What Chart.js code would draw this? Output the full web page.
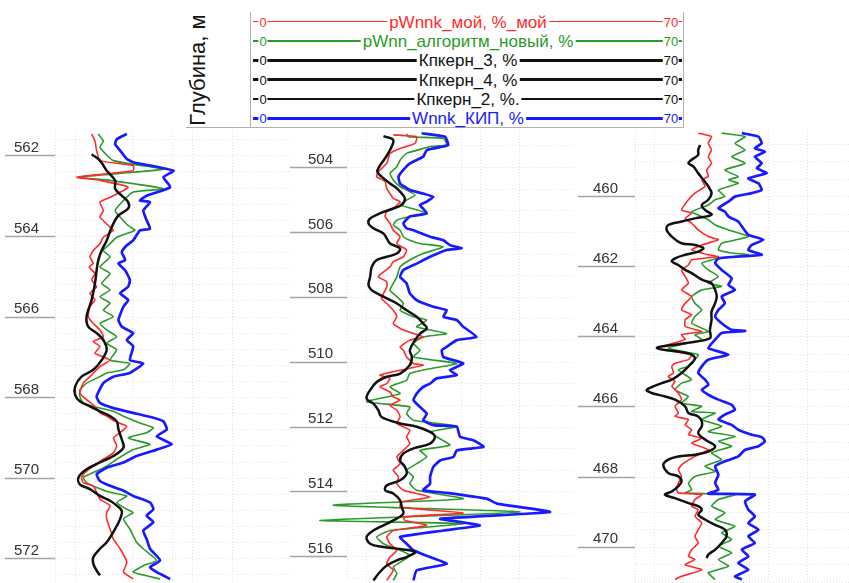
<!DOCTYPE html>
<html>
<head>
<meta charset="utf-8">
<script src="https://cdn.jsdelivr.net/npm/chart.js@4.4.1/dist/chart.umd.min.js"></script>
<style>
  html, body { margin: 0; padding: 0; background: #fff; overflow: hidden; }
  body { position: relative; width: 849px; height: 583px; font-family: Arial, "Liberation Sans", sans-serif; }
  #head { position: absolute; left: 186px; top: 0; width: 497px; height: 127px; border-bottom: 1px solid #b0b0b0; }
  #depthTitle { position: absolute; left: 198px; top: 70px; transform: translate(-50%, -50%) rotate(-90deg);
                font-size: 22px; white-space: nowrap; color: #151515; }
  #legend { position: absolute; left: 250px; top: 12px; width: 432px; height: 116px;
            border-left: 1px solid #b0b0b0; border-right: 1px solid #b0b0b0; }
  .row { position: absolute; left: 2px; width: 429px; height: 0; }
  .row .ln { position: absolute; left: 0; right: 0; top: 0; }
  .row span { position: absolute; top: 0; background: #fff; transform: translate(-50%, -50%);
              line-height: 1; white-space: nowrap; }
  .row .end { font-size: 13px; padding: 0 1px; }
  .row .title { font-size: 17px; padding: 0 2px; }
</style>
</head>
<body>
<div id="head"></div>
<div id="depthTitle">Глубина, м</div>
<div id="legend"></div>
<script>
// ---- scale of every curve track and legend ----
const SCALE_MIN = 0, SCALE_MAX = 70;
const seriesNames = ["pWnnk_мой, %_мой", "pWnn_алгоритм_новый, %", "Кпкерн_3, %", "Кпкерн_4, %", "Кпкерн_2, %.", "Wnnk_КИП, %"];
const seriesColors = ["#ff2a2a", "#2a9a2a", "#111111", "#111111", "#111111", "#1a1aff"];
const gridValues = [0, 6, 23, 35, 41, 53, 70];

// ---- depth ticks (m) ----
const depthTicks1 = [562, 564, 566, 568, 570, 572];
const depthTicks2 = [504, 506, 508, 510, 512, 514, 516];
const depthTicks3 = [460, 462, 464, 466, 468, 470];

// ---- well 1: [depth, value] ----
const red1 = [[561.46,10.9],[561.63,11.9],[561.87,12.4],[562.12,13.4],[562.24,23.3],[562.37,23.3],[562.53,6.5],[562.61,13.4],[562.78,21.8],[563.03,16.4],[563.15,13.4],[563.36,14.4],[563.52,13.4],[563.77,16.4],[563.85,17.4],[564.02,14.4],[564.18,13.4],[564.35,11.4],[564.51,10.4],[564.67,11.4],[564.76,10.2],[564.92,11.9],[565.08,10.9],[565.25,12.4],[565.41,10.4],[565.58,11.9],[565.74,10.4],[565.99,9.9],[566.16,11.4],[566.32,13.4],[566.49,14.4],[566.61,11.4],[566.73,13.4],[566.90,11.9],[567.07,16.4],[567.23,13.4],[567.48,10.4],[567.64,8.4],[567.89,7.4],[568.05,9.4],[568.22,11.9],[568.38,13.4],[568.46,15.4],[568.59,17.9],[568.71,21.4],[568.87,19.4],[569.0,17.4],[569.2,18.4],[569.37,17.4],[569.53,14.4],[569.7,11.4],[569.86,8.9],[569.98,7.9],[570.11,8.4],[570.19,11.4],[570.35,12.4],[570.52,13.4],[570.68,16.4],[570.85,15.4],[571.01,15.4],[571.26,16.4],[571.51,17.4],[571.75,19.4],[572.08,21.4],[572.33,20.4],[572.5,23.3]];
const green1 = [[561.46,12.9],[561.63,14.4],[561.79,13.4],[562.12,17.4],[562.33,32.3],[562.41,23.3],[562.53,7.0],[562.61,16.4],[562.82,32.3],[562.9,23.3],[563.11,20.4],[563.36,17.9],[563.52,19.4],[563.73,21.8],[563.85,23.8],[564.02,18.4],[564.18,16.4],[564.35,14.4],[564.51,16.4],[564.76,13.4],[564.92,16.4],[565.17,13.9],[565.33,16.4],[565.5,13.4],[565.66,16.4],[565.83,14.4],[565.99,17.4],[566.16,13.4],[566.32,15.4],[566.49,18.4],[566.65,15.4],[566.81,18.4],[567.07,16.4],[567.15,22.3],[567.31,20.4],[567.39,15.4],[567.48,13.4],[567.64,9.4],[567.81,7.4],[567.97,7.4],[568.13,8.4],[568.26,13.4],[568.34,17.4],[568.46,20.4],[568.63,25.3],[568.75,29.3],[568.87,27.3],[569.0,21.8],[569.16,28.3],[569.29,23.3],[569.53,18.4],[569.7,15.4],[569.86,11.4],[569.98,8.4],[570.11,9.4],[570.23,12.4],[570.35,16.4],[570.44,21.4],[570.6,18.4],[570.77,21.4],[570.85,23.3],[571.01,20.4],[571.26,22.3],[571.59,24.3],[571.75,26.3],[572.04,30.3],[572.17,26.3],[572.33,23.3],[572.5,31.3]];
const core1 = [[561.96,10.9],[562.12,13.4],[562.37,15.4],[562.61,17.9],[562.82,17.9],[562.99,19.9],[563.15,21.8],[563.31,21.8],[563.48,18.9],[563.77,16.9],[564.1,15.4],[564.35,13.9],[564.59,12.9],[564.84,12.4],[565.17,11.9],[565.58,10.9],[565.99,9.4],[566.24,9.9],[566.4,12.4],[566.57,14.4],[566.81,15.4],[567.07,13.9],[567.31,11.4],[567.48,7.9],[567.72,6.0],[567.93,6.0],[568.09,7.4],[568.22,10.4],[568.34,13.4],[568.46,16.4],[568.59,18.4],[568.79,18.9],[569.04,19.9],[569.24,20.4],[569.45,17.4],[569.61,13.4],[569.78,9.4],[569.98,7.0],[570.15,7.4],[570.27,10.4],[570.44,13.4],[570.56,16.4],[570.68,18.4],[570.81,19.9],[571.01,19.4],[571.26,17.9],[571.59,15.4],[571.75,13.4],[571.96,11.4],[572.12,11.4],[572.29,12.4],[572.41,13.4]];
const blue1 = [[561.46,21.4],[561.59,18.4],[561.71,17.9],[561.87,19.4],[562.08,21.4],[562.16,23.3],[562.37,35.3],[562.53,32.3],[562.78,34.3],[562.99,27.3],[563.11,25.3],[563.15,28.3],[563.36,26.3],[563.6,27.3],[563.81,28.3],[563.85,25.3],[564.1,23.3],[564.22,21.4],[564.39,19.9],[564.59,20.9],[564.67,18.9],[564.84,20.9],[565.08,22.3],[565.25,21.8],[565.41,19.4],[565.58,21.8],[565.74,20.4],[566.07,18.9],[566.24,19.9],[566.4,23.3],[566.57,21.4],[566.73,23.3],[567.07,22.3],[567.15,26.3],[567.39,22.3],[567.48,17.4],[567.64,14.4],[567.97,12.4],[568.13,13.4],[568.26,17.4],[568.38,23.3],[568.5,29.3],[568.59,32.3],[568.79,33.3],[568.96,30.3],[569.16,34.8],[569.29,30.3],[569.45,24.3],[569.61,20.4],[569.74,15.4],[569.9,12.4],[570.07,13.4],[570.19,16.4],[570.31,20.4],[570.44,23.3],[570.6,28.3],[570.77,29.3],[570.93,27.3],[571.09,29.3],[571.3,26.3],[571.51,27.3],[571.75,28.3],[572.04,31.3],[572.21,28.3],[572.33,30.3],[572.5,34.3]];

// ---- well 2 ----
const red2 = [[502.99,14.2],[503.05,21.4],[503.25,20.9],[503.41,16.3],[503.56,13.2],[503.87,12.2],[504.13,9.6],[504.28,9.1],[504.43,11.7],[504.64,12.2],[504.8,13.2],[504.95,14.2],[505.05,16.3],[505.26,14.2],[505.36,12.2],[505.51,11.7],[505.72,13.2],[505.93,14.2],[506.13,16.3],[506.34,15.3],[506.54,18.3],[506.75,17.3],[506.9,14.2],[507.06,13.2],[507.26,10.6],[507.37,9.6],[507.52,12.2],[507.68,12.2],[507.88,11.2],[508.04,10.6],[508.19,12.2],[508.4,14.2],[508.6,15.3],[508.81,14.2],[509.01,17.3],[509.22,23.4],[509.32,19.3],[509.53,16.3],[509.63,17.3],[509.84,18.3],[510.04,20.4],[510.09,23.4],[510.25,16.3],[510.4,10.1],[510.5,13.2],[510.66,12.2],[510.76,10.1],[510.92,13.2],[511.07,14.2],[511.17,16.3],[511.33,13.2],[511.48,15.3],[511.69,16.3],[511.89,15.3],[512.1,19.3],[512.3,18.3],[512.51,19.3],[512.72,17.3],[512.92,15.3],[513.13,16.3],[513.33,14.2],[513.54,15.8],[513.75,15.3],[513.95,17.3],[514.16,25.5],[514.31,16.8],[514.47,16.3],[514.65,35.7],[514.77,17.3],[514.88,17.8],[515.03,24.5],[515.19,14.2],[515.39,12.2],[515.6,13.2],[515.8,15.3],[516.01,13.2],[516.22,12.2],[516.42,14.2],[516.73,12.2]];
const green2 = [[502.96,18.3],[503.05,18.8],[503.1,29.6],[503.3,30.6],[503.35,25.5],[503.41,23.4],[503.56,18.3],[503.77,16.3],[503.97,15.3],[504.18,13.2],[504.38,14.2],[504.59,16.3],[504.69,18.3],[504.85,20.9],[505.0,18.3],[505.15,16.3],[505.26,19.9],[505.41,24.5],[505.51,19.3],[505.62,15.3],[505.77,14.2],[505.93,16.3],[506.13,17.3],[506.24,19.3],[506.34,22.4],[506.44,29.6],[506.65,23.4],[506.85,19.3],[507.06,16.3],[507.37,15.3],[507.57,14.2],[507.78,13.2],[507.98,15.3],[508.19,17.3],[508.4,16.3],[508.6,20.4],[508.7,24.5],[508.91,21.4],[509.12,30.6],[509.22,23.4],[509.42,20.4],[509.63,22.4],[509.84,20.4],[510.04,33.7],[510.2,25.5],[510.35,19.3],[510.56,18.3],[510.76,13.2],[510.97,16.3],[511.22,6.0],[511.38,19.3],[511.59,18.3],[511.79,20.4],[511.98,33.7],[512.15,25.5],[512.3,27.5],[512.56,31.6],[512.72,22.4],[512.92,24.5],[513.13,21.4],[513.33,18.3],[513.54,20.4],[513.75,19.3],[513.95,21.4],[514.21,35.7],[514.41,-4.2],[514.62,53.1],[514.88,-8.3],[514.98,35.7],[515.19,13.2],[515.39,9.1],[515.6,11.2],[515.8,16.3],[515.96,19.3],[516.11,17.3],[516.32,14.2],[516.52,15.3],[516.73,14.2]];
const core2 = [[503.03,11.2],[503.15,14.2],[503.46,13.2],[503.71,11.7],[503.97,9.9],[504.13,9.3],[504.28,10.6],[504.49,13.2],[504.64,15.3],[504.8,16.8],[504.95,17.8],[505.15,16.8],[505.26,14.2],[505.41,10.1],[505.57,7.1],[505.72,6.6],[505.87,8.1],[506.03,11.2],[506.18,12.2],[506.34,13.2],[506.49,16.3],[506.65,15.3],[506.75,12.2],[506.85,9.1],[507.06,7.6],[507.37,7.1],[507.62,6.6],[507.78,7.6],[507.98,11.2],[508.19,15.3],[508.4,18.3],[508.6,21.4],[508.81,23.4],[508.96,24.5],[509.12,22.4],[509.32,20.9],[509.63,19.3],[509.84,19.9],[510.09,19.3],[510.35,16.3],[510.45,12.2],[510.61,9.1],[510.86,7.1],[511.12,6.0],[511.28,8.1],[511.48,9.6],[511.69,10.6],[511.89,16.3],[511.99,21.4],[512.15,25.5],[512.3,27.0],[512.51,25.5],[512.66,20.4],[512.82,17.3],[513.03,16.3],[513.23,17.8],[513.44,18.3],[513.64,16.3],[513.8,12.2],[513.95,11.7],[514.05,14.2],[514.26,16.3],[514.47,16.8],[514.67,17.3],[514.88,14.2],[515.03,11.2],[515.19,8.1],[515.39,6.0],[515.6,7.1],[515.7,11.2],[515.75,15.3],[515.85,20.9],[516.01,18.3],[516.11,15.3],[516.27,12.2],[516.47,10.1],[516.73,8.1]];
const blue2 = [[502.94,22.9],[503.05,30.1],[503.3,31.1],[503.35,29.6],[503.46,24.5],[503.66,23.4],[503.87,19.3],[504.07,17.3],[504.28,15.8],[504.49,16.3],[504.69,19.3],[504.8,23.4],[504.9,26.5],[505.05,24.5],[505.15,22.4],[505.41,24.5],[505.51,19.3],[505.72,17.3],[505.87,18.3],[505.93,20.4],[506.13,25.5],[506.24,29.6],[506.39,31.6],[506.49,35.2],[506.54,30.6],[506.75,25.5],[506.96,21.4],[507.16,17.3],[507.37,16.3],[507.57,18.3],[507.88,19.3],[508.09,21.4],[508.29,26.5],[508.4,30.6],[508.6,29.6],[508.7,33.7],[508.91,35.7],[509.22,39.8],[509.32,33.7],[509.53,30.6],[509.63,29.1],[509.84,29.6],[510.04,35.7],[510.25,31.6],[510.4,33.7],[510.5,27.5],[510.66,25.5],[510.76,23.4],[510.97,21.4],[511.17,20.4],[511.38,22.4],[511.59,24.5],[511.79,23.4],[511.94,26.5],[511.99,33.7],[512.3,34.7],[512.41,38.8],[512.61,41.9],[512.72,33.7],[512.92,32.7],[513.03,28.6],[513.23,26.5],[513.54,25.5],[513.75,25.5],[513.95,23.4],[514.03,30.6],[514.21,42.9],[514.36,46.0],[514.62,62.3],[514.83,28.6],[515.03,40.8],[515.19,29.6],[515.39,16.3],[515.6,18.3],[515.8,20.4],[516.01,25.5],[516.22,30.6],[516.42,21.4],[516.73,20.4]];

// ---- well 3 ----
const red3 = [[458.19,19.4],[458.29,23.5],[458.48,22.5],[458.67,23.5],[458.86,22.5],[459.05,23.5],[459.24,22.0],[459.43,22.5],[459.52,20.5],[459.71,21.5],[459.9,18.4],[460.09,16.4],[460.38,14.3],[460.47,17.4],[460.62,15.4],[460.76,17.4],[460.95,19.4],[461.14,22.5],[461.23,25.6],[461.38,20.5],[461.52,17.4],[461.66,22.5],[461.71,25.6],[461.8,17.4],[461.95,16.4],[462.09,14.3],[462.28,15.4],[462.47,16.4],[462.66,14.3],[462.85,17.4],[463.04,15.4],[463.23,14.3],[463.37,17.4],[463.51,15.4],[463.7,15.4],[463.85,20.5],[463.94,14.3],[464.08,15.4],[464.32,6.7],[464.51,17.4],[464.65,16.4],[464.75,12.3],[464.84,11.3],[465.03,11.8],[465.13,10.2],[465.27,12.3],[465.41,11.3],[465.6,13.3],[465.79,14.3],[465.98,12.3],[466.17,13.3],[466.27,12.3],[466.36,16.4],[466.51,15.4],[466.65,17.4],[466.79,16.4],[466.89,20.5],[467.03,17.4],[467.22,22.5],[467.41,18.4],[467.65,14.3],[467.79,13.3],[467.98,14.3],[468.17,13.3],[468.36,12.8],[468.45,13.3],[468.5,20.5],[468.64,18.4],[468.83,17.4],[468.93,19.4],[469.12,18.4],[469.31,20.5],[469.5,19.4],[469.69,18.4],[469.88,19.4],[470.07,17.4],[470.26,16.4],[470.35,18.4],[470.5,15.4],[470.64,20.5],[470.83,14.3],[470.92,12.3]];
const green3 = [[458.19,26.6],[458.29,33.8],[458.48,30.7],[458.67,33.8],[458.86,29.7],[459.05,33.8],[459.24,27.6],[459.43,31.7],[459.52,28.7],[459.62,31.7],[459.81,25.6],[460.0,27.6],[460.09,24.6],[460.24,22.5],[460.43,17.4],[460.57,20.5],[460.66,22.5],[460.81,24.6],[460.95,28.7],[461.14,34.8],[461.33,26.6],[461.52,25.6],[461.61,29.7],[461.66,34.8],[461.76,25.6],[461.9,20.5],[462.09,22.5],[462.28,25.6],[462.47,22.5],[462.56,26.6],[462.66,20.5],[462.85,17.4],[463.04,18.4],[463.23,20.5],[463.42,18.4],[463.61,17.4],[463.75,20.5],[463.85,22.5],[463.94,18.4],[464.08,20.5],[464.32,10.2],[464.51,19.4],[464.65,18.4],[464.84,16.4],[464.94,13.3],[465.22,17.4],[465.32,14.3],[465.51,12.3],[465.7,16.4],[465.89,14.3],[465.98,20.5],[466.13,17.4],[466.17,24.6],[466.36,20.5],[466.55,26.6],[466.7,22.5],[466.84,30.7],[466.98,25.6],[467.12,29.7],[467.31,23.5],[467.5,26.6],[467.69,21.5],[467.84,24.6],[467.98,18.4],[468.17,16.4],[468.36,17.4],[468.45,15.4],[468.5,30.7],[468.64,25.6],[468.83,23.5],[469.02,27.6],[469.21,24.6],[469.4,30.7],[469.59,26.6],[469.78,29.7],[469.97,25.6],[470.16,29.7],[470.35,25.6],[470.54,28.7],[470.73,22.5],[470.92,24.6]];
const core3 = [[458.53,20.0],[458.67,19.4],[458.81,19.4],[458.95,17.4],[459.05,16.4],[459.14,17.9],[459.33,19.4],[459.52,21.0],[459.71,22.5],[459.9,23.5],[460.09,22.5],[460.24,20.5],[460.38,21.5],[460.52,23.5],[460.62,18.4],[460.71,14.3],[460.81,10.2],[460.95,9.7],[461.14,11.3],[461.33,14.3],[461.38,18.4],[461.47,21.0],[461.57,19.4],[461.66,15.4],[461.76,12.3],[461.85,11.3],[461.95,13.3],[462.09,15.4],[462.18,17.4],[462.37,20.5],[462.47,23.5],[462.66,24.6],[462.85,25.1],[463.04,24.6],[463.28,23.5],[463.51,23.5],[463.8,23.0],[464.04,23.0],[464.18,15.4],[464.32,6.7],[464.47,16.4],[464.61,18.4],[464.84,16.4],[465.03,14.3],[465.22,11.3],[465.32,8.2],[465.51,3.6],[465.6,5.1],[465.7,9.2],[465.79,12.3],[465.98,15.4],[466.17,16.4],[466.27,19.4],[466.41,20.5],[466.55,20.5],[466.74,19.4],[466.93,21.5],[467.12,24.6],[467.27,22.5],[467.36,18.4],[467.41,13.3],[467.5,10.2],[467.65,8.7],[467.88,10.2],[467.98,13.3],[468.12,14.3],[468.26,13.3],[468.41,11.3],[468.5,9.2],[468.6,12.3],[468.74,16.4],[468.83,19.4],[468.93,20.5],[469.07,19.4],[469.21,21.5],[469.36,24.6],[469.5,27.6],[469.69,28.1],[469.88,26.6],[470.07,24.6],[470.21,22.5],[470.31,22.0]];
const blue3 = [[458.19,32.8],[458.29,37.9],[458.48,38.9],[458.62,36.8],[458.72,39.9],[458.86,36.8],[459.05,38.9],[459.19,37.4],[459.33,40.4],[459.48,34.8],[459.62,37.9],[459.81,38.9],[459.9,35.8],[460.0,30.7],[460.14,28.7],[460.33,25.6],[460.43,27.6],[460.57,28.7],[460.71,31.7],[460.85,32.8],[461.09,34.8],[461.23,39.4],[461.38,35.8],[461.52,34.8],[461.66,38.9],[461.76,25.6],[461.9,24.6],[462.09,26.6],[462.33,29.7],[462.52,28.7],[462.66,30.7],[462.85,26.6],[463.04,27.6],[463.23,25.6],[463.42,24.6],[463.61,26.6],[463.8,29.7],[463.83,33.8],[463.89,26.6],[464.08,24.6],[464.32,22.5],[464.51,28.7],[464.65,22.5],[464.84,20.5],[465.03,19.4],[465.22,21.5],[465.37,22.5],[465.51,20.5],[465.65,22.5],[465.79,25.6],[465.94,29.7],[466.08,30.7],[466.22,27.6],[466.36,25.6],[466.51,29.7],[466.65,31.7],[466.79,35.8],[466.86,38.9],[466.98,39.9],[467.12,37.9],[467.22,33.8],[467.41,31.7],[467.55,27.6],[467.69,24.6],[467.93,25.6],[468.17,24.6],[468.36,25.6],[468.47,22.5],[468.5,36.8],[468.69,33.8],[468.93,34.8],[469.12,36.8],[469.31,34.8],[469.5,37.9],[469.69,34.8],[469.88,36.8],[470.07,32.8],[470.26,34.8],[470.45,31.7],[470.64,34.8],[470.83,30.7],[470.92,32.8]];

/* ============================
   HEADER LEGEND
============================ */
const legendWidths = [1.5, 1.5, 2.5, 2.5, 2.5, 2.5];
const legendBox = document.getElementById("legend");
seriesNames.forEach((name, i) => {
    const row = document.createElement("div");
    row.className = "row";
    row.style.top = (9.7 + i * 19.32) + "px";
    row.style.color = seriesColors[i];
    const w = legendWidths[i];
    row.innerHTML =
        `<div class="ln" style="height:${w}px;margin-top:${-w / 2}px;background:${seriesColors[i]}"></div>` +
        `<span class="end" style="left:10px">${SCALE_MIN}</span>` +
        `<span class="title" style="left:215px">${name}</span>` +
        `<span class="end" style="left:418px">${SCALE_MAX}</span>`;
    legendBox.appendChild(row);
});

/* ============================
   TRACKS
============================ */
const panels = [
    { left: 0,   width: 290, axisW: 55, tickLen: 50, pad: -34, yMin: 561.36, yMax: 572.6,  step: 0.4,   majors: depthTicks1,
      curves: [red1, green1, core1, blue1] },
    { left: 290, width: 285, axisW: 57, tickLen: 57, pad: -43, yMin: 502.84, yMax: 516.81, step: 2 / 3, majors: depthTicks2,
      curves: [red2, green2, core2, blue2] },
    { left: 575, width: 288, axisW: 60, tickLen: 57, pad: -40, yMin: 458.10, yMax: 471.02, step: 0.5,   majors: depthTicks3,
      curves: [red3, green3, core3, blue3] }
];

// red, green, core (black), blue
const curveStyle = [
    { color: seriesColors[0], width: 1.6, tension: 0.15, order: 2 },
    { color: seriesColors[1], width: 1.6, tension: 0.15, order: 3 },
    { color: seriesColors[2], width: 2.5, tension: 0.35, order: 0 },
    { color: seriesColors[5], width: 2.7, tension: 0.15, order: 1 }
];

const fontFamily = 'Arial, "Liberation Sans", sans-serif';

panels.forEach(p => {
    const canvas = document.createElement("canvas");
    canvas.width = p.width;
    canvas.height = 453;
    canvas.style.cssText = `position:absolute;left:${p.left}px;top:130px;`;
    document.body.appendChild(canvas);

    const isMajor = v => Math.abs(v - Math.round(v)) < 1e-6 && p.majors.includes(Math.round(v));

    const datasets = p.curves.map((c, i) => ({
        data: c.map(([d, v]) => ({ x: v, y: d })),
        borderColor: curveStyle[i].color,
        borderWidth: curveStyle[i].width,
        tension: curveStyle[i].tension,
        order: curveStyle[i].order,
        showLine: true,
        pointRadius: 0,
        fill: false,
        clip: false
    }));

    new Chart(canvas, {
        type: "scatter",
        data: { datasets },
        options: {
            responsive: false,
            animation: false,
            devicePixelRatio: 1,
            layout: { padding: 0 },
            plugins: { legend: { display: false }, tooltip: { enabled: false } },
            scales: {
                x: {
                    type: "linear", position: "bottom", min: SCALE_MIN, max: SCALE_MAX,
                    afterBuildTicks: s => { s.ticks = gridValues.map(v => ({ value: v })); },
                    ticks: { display: false },
                    grid: { color: "#e0e0e0", drawTicks: false },
                    border: { display: false, dash: [1, 2] }
                },
                y: {
                    type: "linear", reverse: true, min: p.yMin, max: p.yMax,
                    afterFit: s => { s.width = p.axisW; },
                    afterBuildTicks: s => {
                        const t = [];
                        for (let k = Math.ceil(p.yMin / p.step - 1e-6); k * p.step <= p.yMax + 1e-6; k++) {
                            t.push({ value: Math.round(k * p.step * 10000) / 10000 });
                        }
                        s.ticks = t;
                    },
                    ticks: {
                        autoSkip: false,
                        padding: p.pad,
                        labelOffset: -8,
                        color: "#333",
                        font: { size: 15, family: fontFamily },
                        callback: v => isMajor(v) ? String(Math.round(v)) : ""
                    },
                    grid: {
                        color: "#e6e6e6",
                        tickLength: p.tickLen,
                        tickColor: ctx => isMajor(ctx.tick.value) ? "#a5a5a5" : "rgba(0,0,0,0)",
                        tickWidth: 1.3
                    },
                    border: { display: false, dash: [1, 2] }
                }
            }
        }
    });
});
</script>
</body>
</html>
